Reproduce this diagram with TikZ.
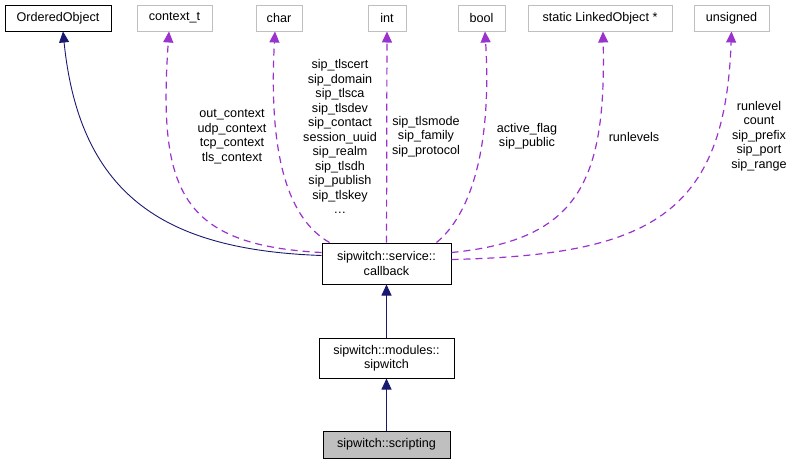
\documentclass[tikz,border=0pt]{standalone}
\usepackage{fontspec}
\setmainfont{Liberation Sans}
\usepackage{xcolor}
\usepackage{tikz}
\usetikzlibrary{arrows.meta, positioning}

\definecolor{inhblue}{HTML}{191970}
\definecolor{usepurple}{HTML}{9A32CD}
\definecolor{extgray}{HTML}{BFBFBF}

\begin{document}
\begin{tikzpicture}[
    x=1pt, y=-1pt,
    font=\fontsize{12.6}{14.5}\selectfont,
    cls/.style={rectangle, draw=black, line width=1pt, fill=white, align=center, inner sep=0pt, minimum height=26pt},
    ext/.style={cls, draw=extgray},
    cur/.style={cls, fill=extgray},
    lbl/.style={align=center, inner sep=0pt},
    inherit/.style={draw=inhblue, line width=0.9pt, -{Triangle[length=11pt, width=10pt]}},
    usage/.style={draw=usepurple, line width=1.2pt, dash pattern=on 7pt off 5pt, -{Triangle[length=11pt, width=10pt]}}
]
    \useasboundingbox (0,0) rectangle (793,461);

    % top row
    \node [cls, minimum width=106pt] (ordobj) at (58,18) {OrderedObject};
    \node [ext, minimum width=75pt] (ctx) at (174.5,18) {context\_t};
    \node [ext, minimum width=46pt] (chr) at (279,18) {char};
    \node [ext, minimum width=38pt] (int) at (387,18) {int};
    \node [ext, minimum width=47pt] (bool) at (481.5,18) {bool};
    \node [ext, minimum width=144pt] (linked) at (600,18) {static LinkedObject *};
    \node [ext, minimum width=75pt] (uns) at (731.5,18) {unsigned};

    % class chain
    \node [cls, minimum width=129pt, minimum height=41pt] (callback) at (386.5,263.5) {sipwitch::service::\\callback};
    \node [cls, minimum width=135pt, minimum height=40pt, below=53pt of callback] (mods) {sipwitch::modules::\\sipwitch};
    \node [cur, minimum width=127pt, minimum height=27pt, below=52pt of mods] (scripting) {sipwitch::scripting};

    % member labels
    \node [lbl] (ctxlbl) at (232,136.5) {out\_context\\udp\_context\\tcp\_context\\tls\_context};
    \node [lbl] (chrlbl) at (340,136.5) {sip\_tlscert\\sip\_domain\\sip\_tlsca\\sip\_tlsdev\\sip\_contact\\session\_uuid\\sip\_realm\\sip\_tlsdh\\sip\_publish\\sip\_tlskey\\\dots};
    \node [lbl] (intlbl) at (426,136.5) {sip\_tlsmode\\sip\_family\\sip\_protocol};
    \node [lbl] (boollbl) at (527,136) {active\_flag\\sip\_public};
    \node [lbl] (linkedlbl) at (634,137) {runlevels};
    \node [lbl] (unslbl) at (759,136) {runlevel\\count\\sip\_prefix\\sip\_port\\sip\_range};

    % inheritance
    \draw [inherit] (mods) -- (callback);
    \draw [inherit] (scripting) -- (mods);
    \draw [inherit] ([yshift=8pt]callback.west) .. controls (170,250) and (80,200) .. ([xshift=5pt]ordobj.south);

    % usage
    \draw [usage] ([yshift=11pt]callback.west) .. controls (180,245) and (158,190) .. ([xshift=-5.5pt]ctx.south);
    \draw [usage] ([xshift=8pt]callback.north west) .. controls (290,220) and (268,160) .. ([xshift=-4pt]chr.south);
    \draw [usage] (callback) -- (int);
    \draw [usage] ([xshift=-15pt]callback.north east) .. controls (470,215) and (492,150) .. ([xshift=3.5pt]bool.south);
    \draw [usage] ([yshift=11pt]callback.east) .. controls (580,240) and (606,180) .. ([xshift=3pt]linked.south);
    \draw [usage] ([yshift=4pt]callback.east) .. controls (650,255) and (725,215) .. (uns.south);
\end{tikzpicture}
\end{document}
